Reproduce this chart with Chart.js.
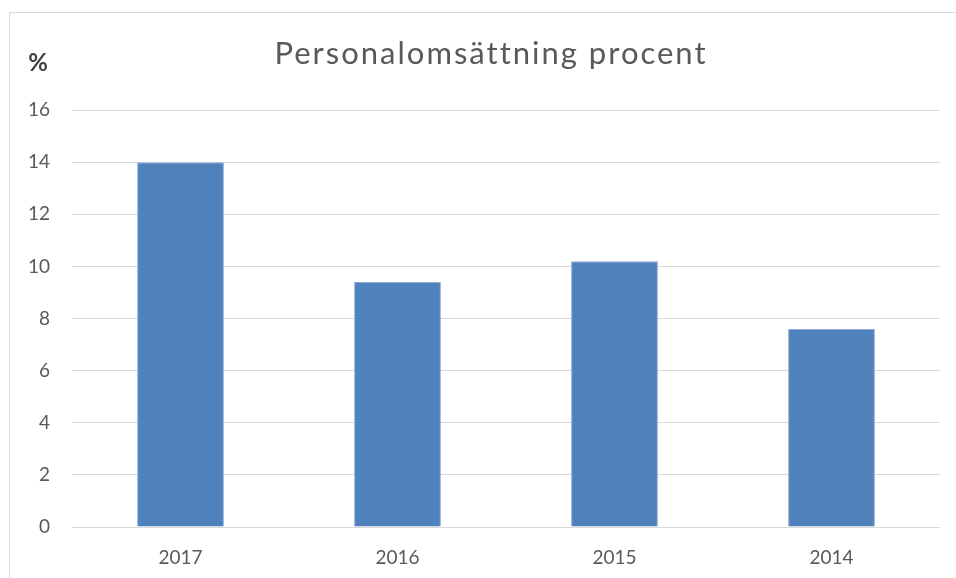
<!DOCTYPE html>
<html>
<head>
<meta charset="utf-8">
<script src="https://cdn.jsdelivr.net/npm/chart.js@4/dist/chart.umd.min.js"></script>
<style>
  html, body { margin: 0; padding: 0; background: #fff; overflow: hidden; }
  #wrap { position: relative; width: 956px; height: 578px; overflow: hidden; }
  #frame { position: absolute; left: 9px; top: 12px; width: 1200px; height: 900px; border: 1px solid #d9d9d9; }
  #myChart { position: absolute; left: 0; top: 0; }
</style>
</head>
<body>
<div id="wrap">
  <div id="frame"></div>
  <canvas id="myChart" width="956" height="578"></canvas>
</div>
<script>
var years = ["2017", "2016", "2015", "2014"];
var turnover = [14.0, 9.4, 10.2, 7.6];
var yTicks = [0, 2, 4, 6, 8, 10, 12, 14, 16];
var titleText = "Personalomsättning procent";
var unitText = "%";

// title (centred on the whole chart frame) and the "%" above the value axis
var headerText = {
    id: 'headerText',
    afterDraw: function (chart) {
        var ctx = chart.ctx;
        ctx.save();
        ctx.fillStyle = '#595959';
        ctx.font = '31px Lato';
        ctx.letterSpacing = '2px';
        ctx.textAlign = 'center';
        ctx.textBaseline = 'alphabetic';
        ctx.fillText(titleText, 491, 64);
        ctx.letterSpacing = '0px';
        ctx.font = 'bold 24px Lato';
        ctx.fillStyle = '#404040';
        ctx.textBaseline = 'middle';
        ctx.fillText(unitText, 38, 63);
        ctx.restore();
    }
};

function renderChart(data, labels) {
    var ctx = document.getElementById("myChart").getContext('2d');
    var myChart = new Chart(ctx, {
        type: 'bar',
        data: {
            labels: labels,
            datasets: [{
                label: titleText,
                data: data,
                backgroundColor: '#4f81bd',
                borderColor: '#8fabd3',
                borderWidth: 1,
                barPercentage: 0.4,
                categoryPercentage: 1.0
            }]
        },
        options: {
            responsive: false,
            animation: false,
            layout: { padding: { left: 0, right: 16, top: 110, bottom: 0 } },
            plugins: {
                legend: { display: false },
                tooltip: { enabled: false },
                title: { display: false }
            },
            scales: {
                x: {
                    grid: { display: false, drawTicks: false },
                    border: { display: false },
                    ticks: {
                        color: '#595959',
                        font: { family: 'Lato', size: 19 },
                        padding: 19
                    },
                    afterFit: function (s) { s.height = 51; }
                },
                y: {
                    min: 0,
                    max: 16,
                    afterBuildTicks: function (s) {
                        s.ticks = yTicks.map(function (v) { return { value: v }; });
                    },
                    grid: { color: '#d9d9d9', lineWidth: 1, drawTicks: false },
                    border: { display: false },
                    ticks: {
                        color: '#595959',
                        font: { family: 'Lato', size: 19 },
                        padding: 22
                    },
                    afterFit: function (s) { s.width = 72; }
                }
            }
        },
        plugins: [headerText]
    });
}

renderChart(turnover, years);
</script>
</body>
</html>
